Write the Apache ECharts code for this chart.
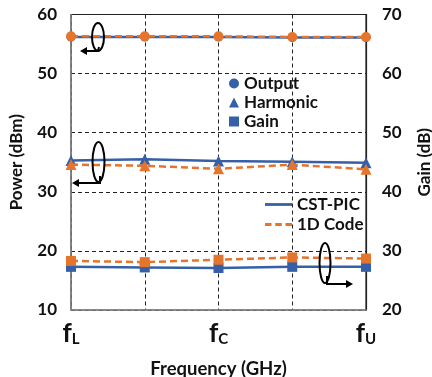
<!DOCTYPE html>
<html>
<head>
<meta charset="utf-8">
<script src="https://cdn.jsdelivr.net/npm/echarts@6/dist/echarts.min.js"></script>
<style>
html,body{margin:0;padding:0;background:#fff;}
#c{width:432px;height:377px;}
</style>
</head>
<body>
<div id="c"></div>
<script>
// categories (frequency points)
var categories = ['f_L', '', 'f_C', '', 'f_U'];
// Power axis ticks (left) and Gain axis ticks (right)
var powerTicks = [10, 20, 30, 40, 50, 60];
var gainTicks = [20, 30, 40, 50, 60, 70];

// Output power (dBm)
var outputCST = [56.2, 56.2, 56.2, 56.1, 56.1];
var output1D  = [56.3, 56.3, 56.3, 56.2, 56.2];
// Harmonic power (dBm)
var harmonicCST = [35.3, 35.5, 35.2, 35.1, 34.9];
var harmonic1D  = [34.6, 34.4, 33.9, 34.6, 33.8];
// Gain (dB)
var gainCST = [27.3, 27.2, 27.1, 27.3, 27.3];
var gain1D  = [28.3, 28.1, 28.5, 28.9, 28.7];

var BLUE = '#3560a8';
var ORANGE = '#e5742c';
var FONT = 'Lato';

var chart = echarts.init(document.getElementById('c'));

function cst(name, data, sym, size) {
  return {name: name, type: 'line', yAxisIndex: name === 'Gain' ? 1 : 0, data: data,
    symbol: sym, symbolSize: size, z: 3,
    lineStyle: {color: BLUE, width: 2.5}, itemStyle: {color: BLUE}};
}
function oned(name, data, sym, size, yi) {
  return {name: name, type: 'line', yAxisIndex: yi, data: data,
    symbol: sym, symbolSize: size, z: 4,
    lineStyle: {color: ORANGE, width: 2.5, type: [7, 4]}, itemStyle: {color: ORANGE}};
}

var option = {
  animation: false,
  grid: {left: 71, right: 66, top: 14.5, bottom: 67, show: true, borderColor: '#222', borderWidth: 1.2,
         containLabel: false, outerBoundsMode: 'none'},
  xAxis: {
    type: 'category', data: categories, boundaryGap: false,
    axisLine: {lineStyle: {color: '#888', width: 1.5}},
    axisTick: {show: false},
    splitLine: {show: true, lineStyle: {color: '#222', type: [4, 3], width: 1}},
    axisLabel: {
      interval: 0, margin: 10,
      formatter: function (v) {
        if (!v) return '';
        return '{f|f}{s|' + v.split('_')[1] + '}';
      },
      rich: {
        f: {fontFamily: FONT, fontWeight: 'bold', fontSize: 26, color: '#111', verticalAlign: 'bottom'},
        s: {fontFamily: FONT, fontWeight: 'bold', fontSize: 15, color: '#111', padding: [12, 0, 0, 0], verticalAlign: 'bottom'}
      }
    },
    name: 'Frequency (GHz)', nameLocation: 'middle', nameGap: 50,
    nameTextStyle: {fontFamily: FONT, fontWeight: 'bold', fontSize: 18.5, color: '#111'}
  },
  yAxis: [{
    type: 'value', min: powerTicks[0], max: powerTicks[powerTicks.length - 1], interval: 10,
    axisLine: {show: true, lineStyle: {color: '#888', width: 1.5}},
    axisTick: {show: false},
    splitLine: {show: true, lineStyle: {color: '#222', type: [4, 3], width: 1}},
    axisLabel: {fontFamily: FONT, fontWeight: 'bold', fontSize: 17, color: '#111', margin: 14},
    name: 'Power (dBm)', nameLocation: 'middle', nameGap: 46,
    nameTextStyle: {fontFamily: FONT, fontWeight: 'bold', fontSize: 17, color: '#111'}
  }, {
    type: 'value', min: gainTicks[0], max: gainTicks[gainTicks.length - 1], interval: 10,
    axisLine: {show: true, lineStyle: {color: '#222', width: 1.2}},
    axisTick: {show: false},
    splitLine: {show: false},
    axisLabel: {fontFamily: FONT, fontWeight: 'bold', fontSize: 17, color: '#111', margin: 16},
    name: 'Gain (dB)', nameLocation: 'middle', nameGap: 50,
    nameTextStyle: {fontFamily: FONT, fontWeight: 'bold', fontSize: 17, color: '#111'}
  }],
  legend: [{
    orient: 'vertical', left: 224, top: 70, itemGap: 2, itemWidth: 10, itemHeight: 10,
    textStyle: {fontFamily: FONT, fontWeight: 'bold', fontSize: 17, color: '#111'},
    data: [{name: 'Output', icon: 'circle'}, {name: 'Harmonic', icon: 'triangle'}, {name: 'Gain', icon: 'rect'}],
    selectedMode: false
  }, {
    orient: 'vertical', left: 260, top: 191, itemGap: 3, itemWidth: 27, itemHeight: 3,
    textStyle: {fontFamily: FONT, fontWeight: 'bold', fontSize: 17, color: '#111'},
    data: [
      {name: 'CST-PIC', icon: 'path://M0,0h29v3h-29z'},
      {name: '1D Code', icon: 'path://M0,0h7v3h-7zM11,0h7v3h-7zM22,0h7v3h-7z'}
    ],
    selectedMode: false
  }],
  series: [
    cst('Output', outputCST, 'circle', 9),
    oned('Output 1D', output1D, 'circle', 10, 0),
    cst('Harmonic', harmonicCST, 'triangle', 11),
    oned('Harmonic 1D', harmonic1D, 'triangle', 11, 0),
    cst('Gain', gainCST, 'rect', 10),
    oned('Gain 1D', gain1D, 'rect', 10, 1),
    {name: 'CST-PIC', type: 'line', data: [], symbol: 'none', lineStyle: {color: BLUE, width: 2.5}, itemStyle: {color: BLUE}},
    {name: '1D Code', type: 'line', data: [], symbol: 'none', lineStyle: {color: ORANGE, width: 2.5, type: [6, 4]}, itemStyle: {color: ORANGE}}
  ],
  graphic: [
    // top annotation (Output -> left axis)
    {type: 'ellipse', shape: {cx: 98, cy: 37, rx: 6, ry: 14}, style: {fill: 'none', stroke: '#000', lineWidth: 2}, z: 10},
    {type: 'polyline', shape: {points: [[99, 47], [98, 51], [84, 51]]}, style: {fill: 'none', stroke: '#000', lineWidth: 2}, z: 10},
    {type: 'polygon', shape: {points: [[80, 51], [87, 47], [87, 55]]}, style: {fill: '#000'}, z: 10},
    // middle annotation (Harmonic -> left axis)
    {type: 'ellipse', shape: {cx: 98.5, cy: 162, rx: 6, ry: 20}, style: {fill: 'none', stroke: '#000', lineWidth: 2}, z: 10},
    {type: 'polyline', shape: {points: [[100, 176], [100, 183], [76, 183]]}, style: {fill: 'none', stroke: '#000', lineWidth: 2}, z: 10},
    {type: 'polygon', shape: {points: [[72, 183], [79, 179], [79, 187]]}, style: {fill: '#000'}, z: 10},
    // bottom annotation (Gain -> right axis)
    {type: 'ellipse', shape: {cx: 325, cy: 263, rx: 5.5, ry: 20}, style: {fill: 'none', stroke: '#000', lineWidth: 2}, z: 10},
    {type: 'polyline', shape: {points: [[327, 276], [327, 284], [348, 284]]}, style: {fill: 'none', stroke: '#000', lineWidth: 2}, z: 10},
    {type: 'polygon', shape: {points: [[353, 284], [346, 280], [346, 288]]}, style: {fill: '#000'}, z: 10}
  ]
};
chart.setOption(option);
</script>
</body>
</html>
